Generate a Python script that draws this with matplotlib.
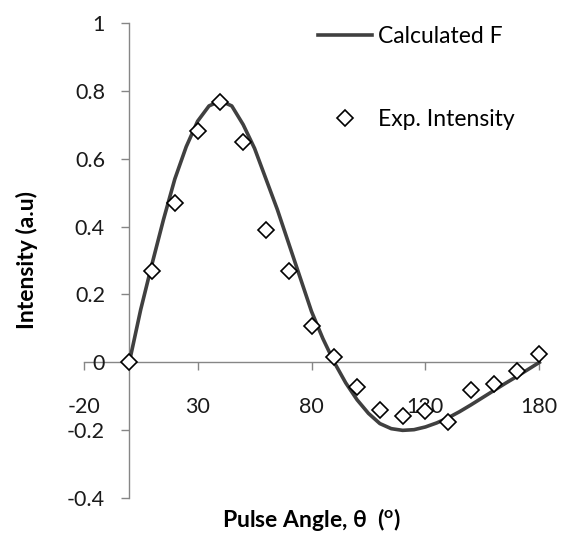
import matplotlib
matplotlib.use("Agg")
import matplotlib.pyplot as plt

plt.rcParams["font.family"] = ["Lato", "DejaVu Sans"]
plt.rcParams["axes.unicode_minus"] = False

# calculated curve, read every 5 degrees
calc_angle = list(range(0, 181, 5))
calc_f = [0.0, 0.155, 0.29, 0.42, 0.54, 0.635, 0.71, 0.755, 0.77, 0.755,
          0.70, 0.63, 0.54, 0.45, 0.35, 0.25, 0.15, 0.07, 0.0, -0.06,
          -0.11, -0.15, -0.18, -0.195, -0.20, -0.198, -0.19, -0.178, -0.163,
          -0.145, -0.125, -0.104, -0.083, -0.062, -0.042, -0.021, 0.0]

# experimental points
exp_angle = list(range(0, 181, 10))
exp_int = [0.0, 0.268, 0.468, 0.68, 0.768, 0.65, 0.39, 0.268, 0.107, 0.016,
           -0.072, -0.141, -0.159, -0.144, -0.174, -0.082, -0.065, -0.024, 0.024]

x_ticks = [-20, 30, 80, 130, 180]
y_ticks = [-0.4, -0.2, 0, 0.2, 0.4, 0.6, 0.8, 1]
y_labels = ["-0.4", "-0.2", "0", "0.2", "0.4", "0.6", "0.8", "1"]

fig = plt.figure(figsize=(5.63, 5.35), dpi=100)
ax = fig.add_axes([0.1487, 0.0686, 0.8092, 0.889])

ax.plot(calc_angle, calc_f, color="#404040", linewidth=2.6,
        label="Calculated F", zorder=2, clip_on=False)
ax.plot(exp_angle, exp_int, linestyle="none", marker="D", markersize=8.5,
        markerfacecolor="white", markeredgecolor="black", markeredgewidth=1.2,
        label="Exp. Intensity", zorder=3, clip_on=False)

ax.set_xlim(-20, 180)
ax.set_ylim(-0.4, 1)
ax.set_xticks(x_ticks)
ax.set_yticks(y_ticks)
ax.set_yticklabels(y_labels)

for s in ["top", "right"]:
    ax.spines[s].set_visible(False)
ax.spines["left"].set_position(("data", 0))
ax.spines["bottom"].set_position(("data", 0))
for s in ["left", "bottom"]:
    ax.spines[s].set_color("#868686")
    ax.spines[s].set_linewidth(1.0)
    ax.spines[s].set_zorder(1)

ax.tick_params(axis="both", direction="out", length=5.5, width=1.0,
               color="#868686", labelsize=15.5, labelcolor="#1a1a1a")
ax.tick_params(axis="y", pad=12)
ax.tick_params(axis="x", pad=19.5)

ax.set_xlabel("Pulse Angle, θ  ($\\mathregular{^o}$)", fontsize=16.5,
              fontweight="bold", va="center")
ax.xaxis.set_label_coords(0.5, -0.0456)
ax.set_ylabel("Intensity (a.u)", fontsize=16.5, fontweight="bold", va="center")
ax.yaxis.set_label_coords(-0.1245, 0.5)

ax.legend(loc="upper left", bbox_to_anchor=(0.565, 0.952),
          bbox_transform=fig.transFigure, frameon=False, fontsize=16.5,
          borderpad=0, borderaxespad=0, handlelength=2.35, handletextpad=0.27,
          labelspacing=2.7)

fig.savefig("out.png", dpi=100)
